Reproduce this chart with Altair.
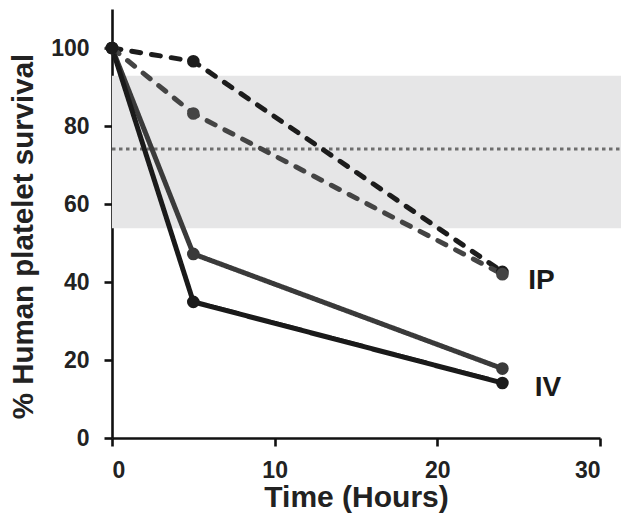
import altair as alt
import pandas as pd

# ---- data ----
times = [0, 5, 24]
series_names = ["IP-1", "IP-2", "IV-1", "IV-2"]
routes = ["IP", "IP", "IV", "IV"]
ip1 = [100, 96.6, 42.6]
ip2 = [100, 83.2, 42.0]
iv1 = [100, 47.2, 17.8]
iv2 = [100, 34.9, 14.1]
series_values = [ip1, ip2, iv1, iv2]
series_colors = ["#1c1c1c", "#444444", "#3a3a3a", "#1a1a1a"]

band_low, band_high = 53.8, 92.9
band_x_end = 31.3
ref_line = 74.1

label_text = ["IP", "IV"]
label_x = [26.4, 26.8]
label_y = [40.2, 12.7]

x_ticks = [0, 10, 20, 30]
y_ticks = [0, 20, 40, 60, 80, 100]

rows = []
for name, route, vals in zip(series_names, routes, series_values):
    for t, v in zip(times, vals):
        rows.append({"series": name, "route": route, "time": t, "value": v})
df = pd.DataFrame(rows)

band_df = pd.DataFrame({"x1": [0], "x2": [band_x_end], "y1": [band_low], "y2": [band_high]})
ref_df = pd.DataFrame({"x1": [0], "x2": [band_x_end], "y": [ref_line]})
lab_df = pd.DataFrame({"text": label_text, "x": label_x, "y": label_y})

FONT = "Liberation Sans"

xscale = alt.Scale(domain=[0, 30], nice=False, zero=False)
yscale = alt.Scale(domain=[0, 110], nice=False)

xaxis = alt.Axis(values=x_ticks, title="Time (Hours)", titleFontSize=30,
                 titleY=68, titleBaseline="alphabetic", labelPadding=13)
yaxis = alt.Axis(values=y_ticks, title="% Human platelet survival", titleFontSize=29.5,
                 titleX=-80, titleY=227, titleBaseline="alphabetic", labelPadding=15)

band = alt.Chart(band_df).mark_rect(color="#e6e6e7").encode(
    x=alt.X("x1:Q", scale=xscale, axis=xaxis),
    x2="x2:Q",
    y=alt.Y("y1:Q", scale=yscale, axis=yaxis),
    y2="y2:Q",
)

ref = alt.Chart(ref_df).mark_rule(color="#6e6e6e", strokeWidth=3.2, strokeDash=[3.5, 3.5]).encode(
    x=alt.X("x1:Q", scale=xscale),
    x2="x2:Q",
    y=alt.Y("y:Q", scale=yscale),
)

color_enc = alt.Color("series:N", scale=alt.Scale(domain=series_names, range=series_colors), legend=None)

lines = alt.Chart(df).mark_line(strokeWidth=5, strokeCap="round").encode(
    x=alt.X("time:Q", scale=xscale),
    y=alt.Y("value:Q", scale=yscale),
    color=color_enc,
    strokeDash=alt.StrokeDash("route:N", scale=alt.Scale(domain=["IP", "IV"], range=[[9, 11], [1, 0]]), legend=None),
    detail="series:N",
)

points = alt.Chart(df).mark_point(filled=True, size=160, opacity=1).encode(
    x=alt.X("time:Q", scale=xscale),
    y=alt.Y("value:Q", scale=yscale),
    color=color_enc,
)

labels = alt.Chart(lab_df).mark_text(font=FONT, fontWeight="bold", fontSize=28, color="#1a1a1a",
                                     align="center", baseline="middle").encode(
    x=alt.X("x:Q", scale=xscale),
    y=alt.Y("y:Q", scale=yscale),
    text="text:N",
)

chart = alt.layer(band, ref, lines, points, labels).properties(
    width=488, height=429,
    autosize=alt.AutoSizeParams(type="none"),
    padding={"left": 104, "top": 1, "right": 21, "bottom": 85},
).configure_view(stroke=None).configure_axis(
    grid=False,
    domainColor="#111111", domainWidth=2.6,
    tickColor="#111111", tickWidth=2.6, tickSize=8,
    labelFont=FONT, labelFontWeight="bold", labelFontSize=23, labelColor="#222222",
    titleFont=FONT, titleFontWeight="bold", titleColor="#222222",
)

chart.save("out.html", embed_options={"renderer": "svg", "actions": False})
